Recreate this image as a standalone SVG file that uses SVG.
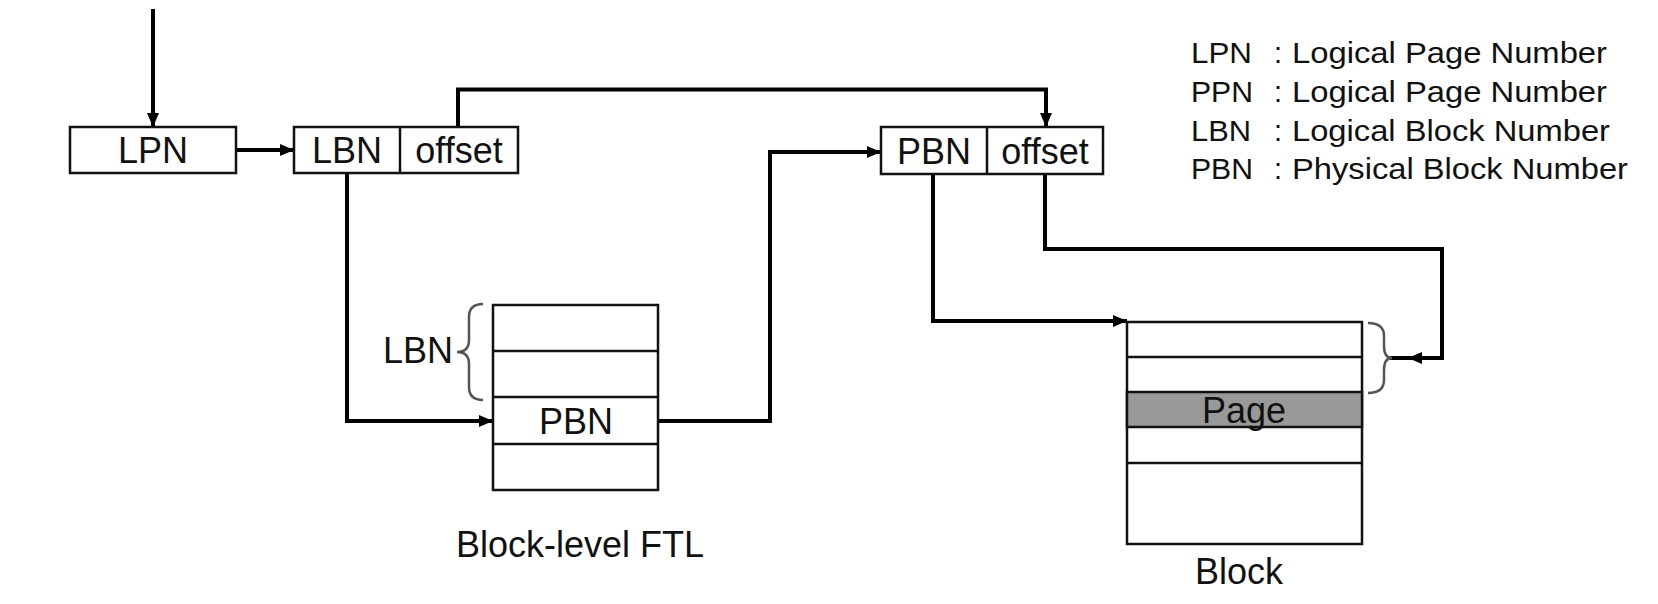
<svg xmlns="http://www.w3.org/2000/svg" width="1658" height="604" viewBox="0 0 1658 604">
<defs>
<style>
.box{fill:#fff;stroke:#111;stroke-width:2.5}
.div{stroke:#111;stroke-width:2.5;fill:none}
.page{fill:#999;stroke:#111;stroke-width:2.5}
.conn{fill:none;stroke:#000;stroke-width:4;stroke-linejoin:miter}
.brace{fill:none;stroke:#555;stroke-width:2.5}
.t{font-family:"Liberation Sans",Arial,sans-serif;font-size:36px;fill:#111}
.c{text-anchor:middle}
.lg{font-family:"Liberation Sans",Arial,sans-serif;font-size:29px;fill:#111}
</style>
<marker id="ah" markerUnits="userSpaceOnUse" markerWidth="16" markerHeight="14" refX="14" refY="6" orient="auto">
<path d="M0,0 L14,6 L0,12 z" fill="#000"/>
</marker>
</defs>
<rect width="1658" height="604" fill="#fff"/>

<g id="connectors">
<path class="conn" d="M153,9 V127" marker-end="url(#ah)"/>
<path class="conn" d="M236,150 H294" marker-end="url(#ah)"/>
<path class="conn" d="M458,127 V89.5 H1046 V127" marker-end="url(#ah)"/>
<path class="conn" d="M347,174 V421 H493" marker-end="url(#ah)"/>
<path class="conn" d="M658,421 H770 V152 H881" marker-end="url(#ah)"/>
<path class="conn" d="M933,175 V321 H1127" marker-end="url(#ah)"/>
<path class="conn" d="M1045,175 V249 H1442 V358 H1408" marker-end="url(#ah)"/>
<path class="conn" d="M1410,358 H1390"/>
</g>

<g id="lpn">
<rect class="box" x="70" y="127" width="166" height="46"/>
<text class="t c" x="153" y="163">LPN</text>
</g>

<g id="lbn-offset">
<rect class="box" x="294" y="127" width="224" height="46"/>
<line class="div" x1="400" y1="127" x2="400" y2="173"/>
<text class="t c" x="347" y="163">LBN</text>
<text class="t c" x="459" y="163">offset</text>
</g>

<g id="pbn-offset">
<rect class="box" x="881" y="127" width="222" height="47"/>
<line class="div" x1="987" y1="127" x2="987" y2="174"/>
<text class="t c" x="934" y="164">PBN</text>
<text class="t c" x="1045" y="164">offset</text>
</g>

<g id="ftl-table">
<rect class="box" x="493" y="305" width="165" height="185"/>
<line class="div" x1="493" y1="351" x2="658" y2="351"/>
<line class="div" x1="493" y1="397" x2="658" y2="397"/>
<line class="div" x1="493" y1="444" x2="658" y2="444"/>
<text class="t c" x="576" y="434">PBN</text>
<path class="brace" d="M483,304 Q469,304 469,317 L469,340 Q469,352 457,352 Q469,352 469,364 L469,387 Q469,400 483,400"/>
<text class="t" x="383" y="363">LBN</text>
<text class="t c" x="580" y="557">Block-level FTL</text>
</g>

<g id="block">
<rect class="box" x="1127" y="322" width="235" height="222"/>
<rect class="page" x="1127" y="392" width="235" height="35"/>
<line class="div" x1="1127" y1="357" x2="1362" y2="357"/>
<line class="div" x1="1127" y1="463" x2="1362" y2="463"/>
<text class="t c" x="1244" y="423">Page</text>
<path class="brace" d="M1368,323 Q1384,323 1384,336 L1384,346 Q1384,358 1392,358 Q1384,358 1384,370 L1384,380 Q1384,393 1368,393"/>
<text class="t c" x="1239" y="584">Block</text>
</g>

<g id="legend">
<text class="lg" x="1191" y="63" textLength="61" lengthAdjust="spacingAndGlyphs">LPN</text>
<text class="lg" x="1274" y="63">:</text>
<text class="lg" x="1292" y="63" textLength="315" lengthAdjust="spacingAndGlyphs">Logical Page Number</text>
<text class="lg" x="1191" y="102" textLength="62" lengthAdjust="spacingAndGlyphs">PPN</text>
<text class="lg" x="1274" y="102">:</text>
<text class="lg" x="1292" y="102" textLength="315" lengthAdjust="spacingAndGlyphs">Logical Page Number</text>
<text class="lg" x="1191" y="141" textLength="60" lengthAdjust="spacingAndGlyphs">LBN</text>
<text class="lg" x="1274" y="141">:</text>
<text class="lg" x="1292" y="141" textLength="318" lengthAdjust="spacingAndGlyphs">Logical Block Number</text>
<text class="lg" x="1191" y="179" textLength="62" lengthAdjust="spacingAndGlyphs">PBN</text>
<text class="lg" x="1274" y="179">:</text>
<text class="lg" x="1292" y="179" textLength="336" lengthAdjust="spacingAndGlyphs">Physical Block Number</text>
</g>
</svg>
